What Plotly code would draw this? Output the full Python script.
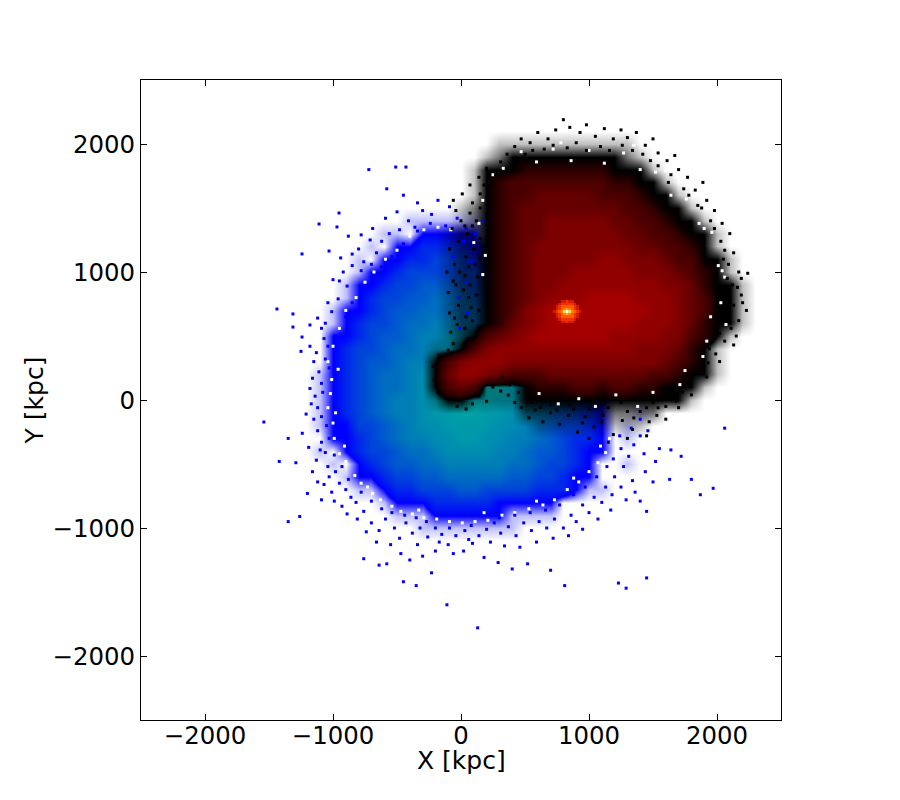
"""Two merging haloes: projected density, blue and red particle sets."""

import plotly.graph_objects as go

# density levels, one digit per 100 kpc cell
# 0 = empty, a = scattered particles, b = very few particles
blue_x = list(range(-1200, 1700, 100))
blue_y = list(range(1500, -1200, -100))
blue_rows = [
    "0000000bbbbbbb0000000000000",
    "00000bb01111100000000000000",
    "0000b0112222110000000000000",
    "000b01122333211000000000000",
    "000b11233333321000000000000",
    "00b112334444332000000000000",
    "00b123344555443000000000000",
    "0b1123445555554000000000000",
    "0b1233455666554000000000000",
    "011234456677765000000000000",
    "012334556778887000000000000",
    "012344566788888000000000000",
    "b12345567889999800000000000",
    "b12345567889999876543210000",
    "b12345667899998876543210000",
    "b123456678899887765432100b0",
    "b11334567788887765433210b00",
    "011234566778877665432210b00",
    "b01233455677776654432110000",
    "0b0123445566666554332100b00",
    "00b112334455555443321100000",
    "000bb1223334433332221bb0000",
    "00000b111222221111100000000",
    "000000bbb111111bbbb00000000",
    "00000000bbbbbbbb00000000000",
]

red_x = list(range(-300, 2400, 100))
red_y = list(range(2200, -400, -100))
red_rows = [
    "0000000000000000000000000",
    "00000bbbbbbbbbbb000000000",
    "0000ba111111111ab00000000",
    "000b1112222222111b0000000",
    "000b12333333332211b000000",
    "000b123344444333211b00000",
    "00ba1234444444433211b0000",
    "00ba12344555554433211b000",
    "0baa123445555554433211b00",
    "0baa123455555555443321b00",
    "0baa1234555556655543311b0",
    "0baa1234555666665554321b0",
    "0baa12345566666666554211b",
    "0baa12345666777766654311b",
    "0baa12356787777776654311b",
    "0baa12456777777766654211b",
    "0ba13456777777666655321b0",
    "bb13566666666666555421b00",
    "1356665555555555554321b00",
    "1466543334444444433211b00",
    "1343bbb12223323322111b000",
    "b11bbbb1111111111111b0000",
    "0000000aaaaaaaaaaa0000000",
    "00000000bbbbbbbbb00000000",
]

# bright core of the red halo, 20 kpc cells
core_x = list(range(730, 950, 20))
core_y = list(range(790, 570, -20))
core_levels = [
    [None, None, None, None, None, None, None, None, None, None, None],
    [None, None, None, 9, 9, 10, 9, 9, None, None, None],
    [None, None, 9, 10, 10, 10, 10, 10, 9, None, None],
    [None, 9, 10, 11, 11, 11, 11, 11, 10, 9, None],
    [None, 9, 10, 11, 12, 13, 12, 11, 10, 9, None],
    [9, 10, 11, 12, 14, 16, 14, 12, 11, 10, 9],
    [None, 9, 10, 11, 12, 13, 12, 11, 10, 9, None],
    [None, 9, 10, 11, 11, 11, 11, 11, 10, 9, None],
    [None, None, 9, 10, 10, 10, 10, 10, 9, None, None],
    [None, None, None, 9, 9, 10, 9, 9, None, None, None],
    [None, None, None, None, None, None, None, None, None, None, None],
]

# isolated particles outside the dense parts (kpc)
blue_dots = [
    (-1438, 711), (-1313, 672), (-1313, 570), (-1242, 492), (-1180, 586), (-1120, 640), (-1090, 560),
    (-1180, 420), (-1250, 380), (-1150, 300), (-1110, 220), (-1090, 130), (-1180, 90), (-1140, 30),
    (-1120, -60), (-1210, -110), (-1540, -172), (-1350, -300), (-1420, -480), (-1290, -490), (-1190, -370),
    (-1120, -240), (-1090, -330), (-1060, -410), (-1130, -470), (-1040, -520), (-1350, -950), (-1260, -910),
    (-1200, -730), (-1120, -640), (-1030, -600), (-980, -560), (-950, -650), (-1010, -720), (-900, -700),
    (-860, -760), (-930, -830), (-820, -800), (-760, -870), (-953, 1461), (-1109, 1375), (-969, 1352),
    (-1031, 1164), (-1242, 1141), (-880, 1280), (-800, 1180), (-760, 1080), (-850, 1050), (-920, 1000),
    (-1000, 940), (-890, 890), (-960, 790), (-1040, 760), (-1060, 600), (-780, 1010), (-700, 1060),
    (-660, 1150), (-620, 1240), (-560, 1300), (-710, 1250), (-510, 1820), (-430, 1820), (-720, 1800),
    (-580, 1650), (-450, 1600), (-340, 1540), (-300, 1480), (-230, 1450), (-410, 1400), (-360, 1350),
    (-480, 1330), (-640, -1290), (-580, -1280), (-450, -1420), (-350, -1450), (-230, -1350), (-110, -1600),
    (130, -1780), (-760, -1240), (-400, -1250), (-300, -1220), (-200, -1180), (-100, -1130), (20, -1180),
    (90, -1120), (180, -1230), (290, -1270), (400, -1320), (520, -1280), (700, -1330), (810, -1450),
    (1230, -1430), (1290, -1470), (1450, -1390), (-700, -960), (-640, -1020), (-590, -930), (-520, -1000),
    (-480, -1080), (-430, -960), (-380, -1040), (-320, -1000), (-260, -1070), (-200, -1000), (-150, -1050),
    (-90, -1000), (-40, -1060), (30, -1020), (80, -980), (140, -1060), (200, -1010), (260, -960),
    (310, -1040), (370, -990), (430, -1060), (490, -960), (550, -1020), (610, -950), (670, -1000),
    (730, -930), (800, -1000), (900, -950), (1000, -880), (1100, -800), (1180, -740), (1250, -680),
    (1340, -630), (1450, -870), (1400, -790), (1500, -640), (1630, -620), (1720, -440), (1870, -740),
    (2060, -220), (1970, -690), (860, -900), (950, -820), (1040, -760), (1130, -680), (1200, -600),
    (1270, -520), (1310, -440), (1250, -380), (1190, -460), (1350, -350), (1400, -280), (1460, -240),
    (-980, 500), (-1040, 420), (-1060, 320), (-1030, 250), (-1090, -130), (-1050, -200), (-1030, -300),
    (-990, -430), (-930, -520), (-880, -620), (-780, -720), (-700, -790), (-620, -850), (-540, -880),
    (-440, -900), (-350, -920), (-270, -950), (300, -920), (420, -900), (540, -880), (660, -860),
    (770, -820), (880, -740), (970, -680), (1060, -600), (1140, -520), (-900, 650), (-850, 760),
    (-780, 880), (-700, 960), (-620, 1040), (-540, 1120), (-450, 1220), (-340, 1320), (-240, 1380),
    (-120, 1360), (-30, 1420), (40, 1340), (110, 1300), (170, 1400), (-60, 1120), (20, 1240),
    (80, 1080), (40, 920), (-20, 800), (50, 680), (-10, 560), (1400, -150), (1330, -220), (1240, -280),
    (-1070, 480), (-1130, 370), (-1160, 170), (-1080, 60), (-1170, -30), (-1150, -150), (-1240, -260),
    (-1100, -390), (-1160, -560), (-1070, -660), (-1090, -780), (-990, -790), (-890, -890), (-810, -930),
    (-740, -1030), (-660, -1110), (-550, -1130), (-470, -1200), (-340, -1130), (-170, -1110), (-60, -1200),
    (60, -1090), (230, -1110), (340, -1140), (460, -1150), (590, -1110), (720, -1080), (840, -1060),
    (950, -1010), (1070, -930), (1170, -860), (1290, -780), (1360, -720), (1440, -560), (1520, -480),
    (1430, -420), (1550, -380), (-1010, 690), (-950, 930), (-850, 1140), (-940, 1110), (-690, 1340),
    (-780, 1290), (-590, 1420), (-500, 1470), (-180, 1560), (-90, 1510), (1640, -390), (1800, -620),
]

black_dots = [
    (-60, 1560), (10, 1610), (70, 1680), (140, 1740), (200, 1810), (90, 1540), (150, 1610), (230, 1670),
    (270, 1760), (310, 1860), (360, 1920), (420, 1980), (470, 2040), (540, 2010), (600, 2090), (680, 2040),
    (740, 2110), (800, 2190), (850, 2130), (930, 2090), (980, 2150), (1050, 2060), (1120, 2120), (1190, 2040),
    (1250, 2110), (1300, 2050), (1370, 2090), (1440, 1990), (1500, 2040), (1540, 1930), (1610, 1870), (1670, 1910),
    (1700, 1800), (1770, 1740), (1830, 1640), (1890, 1700), (1920, 1560), (1980, 1480), (2040, 1380), (2100, 1300),
    (2030, 1240), (2130, 1150), (2090, 1060), (2170, 1000), (2240, 990), (2120, 900), (2190, 820), (2130, 740),
    (2230, 700), (2170, 620), (2110, 560), (2060, 460), (2130, 430), (1990, 360), (1930, 290), (1860, 210),
    (1800, 130), (1730, 60), (1680, -10), (1600, -50), (1530, -120), (1470, -170), (1400, -90), (1340, -230),
    (1260, -160), (1190, -270), (1110, -120), (1040, -210), (970, -130), (910, -250), (840, -120), (770, -190),
    (700, -100), (640, -170), (580, -80), (530, -140), (470, -60), (420, -20), (370, 40), (310, 70),
    (250, 100), (200, -10), (140, 30), (90, -30), (40, -70), (-30, -50), (-110, 10), (-180, 60),
    (-210, 160), (-220, 260), (-170, 350), (-100, 390), (-60, 440), (10, 400), (50, 480), (-80, 530),
    (-30, 590), (40, 650), (-90, 680), (-20, 740), (60, 800), (-100, 840), (-40, 900), (30, 970),
    (-110, 1000), (-50, 1060), (40, 1120), (-90, 1180), (-20, 1240), (50, 1300), (-70, 1340), (0, 1400),
    (70, 1460), (-40, 1480), (120, 1400), (150, 1500), (1000, -300), (1150, -330), (1300, -300), (1450, -280),
    (1600, -150), (1700, -60), (1800, 40), (1920, 180), (2020, 300), (2150, 500), (2200, 760), (2160, 880),
    (2190, 950), (2060, 1170), (1980, 1340), (1880, 1500), (1780, 1600), (1640, 1760), (1540, 1830), (1420, 1920),
    (1260, 1990), (1090, 1980), (900, 2010), (720, 1990), (560, 1950), (430, 1880), (310, 1790), (180, 1680),
    (400, 1800), (500, 1920), (650, 1960), (830, 1970), (980, 1950), (1160, 1950), (1340, 1950), (1480, 1870),
    (1620, 1700), (1740, 1650), (1850, 1520), (1950, 1400), (2050, 1100), (2080, 950), (2090, 800), (2060, 640),
    (2020, 520), (1940, 400), (1820, 260), (1750, 160), (1650, 60), (1560, 10), (1450, -60), (1300, -90),
    (1150, -60), (1000, -70), (850, -40), (700, -40), (550, -20), (450, 60), (380, 120), (320, 180),
    (-10, 1000), (60, 1040), (-60, 930), (20, 860), (80, 720), (-50, 640), (30, 560), (90, 620), (70, 900),
    (100, 1180), (30, 1360), (90, 1360), (110, 1060), (120, 820), (130, 960), (140, 700), (150, 1260), (150, 1100),
    (1500, -20), (1250, -20), (1100, -170), (880, -70), (750, -80), (620, -60), (1350, -140), (1540, -60), (950, -180),
]

# gaps left between particles at the edges of the dense parts (kpc)
white_dots = [
    (-1040, 300), (-1010, 160), (-1020, 50), (-1040, -60), (-1000, -180), (-990, -300), (-950, -420),
    (-900, -480), (-830, -590), (-780, -650), (-690, -730), (-630, -780), (-540, -830), (-470, -870),
    (-380, -890), (-290, -920), (-190, -930), (-90, -950), (10, -960), (110, -950), (210, -940), (320, -900),
    (420, -880), (530, -850), (640, -820), (730, -780), (830, -700), (920, -640), (1000, -560), (1070, -490),
    (1130, -410), (1160, -300), (-1000, 420), (-950, 560), (-900, 700), (-820, 800), (-750, 920), (-680, 1000),
    (-590, 1100), (-500, 1170), (-400, 1280), (-290, 1330), (-180, 1350), (-80, 1330), (-960, 240), (-980, -100),
    (-910, -360), (-730, -680), (-330, -860), (180, -880), (590, -790), (880, -610), (1090, -360),
    (330, 1810), (470, 1940), (590, 1860), (720, 1960), (860, 1870), (1000, 1950), (1120, 1850), (1270, 1930),
    (1400, 1800), (1520, 1780), (1640, 1600), (1760, 1570), (1860, 1380), (1960, 1310), (2010, 1050), (2060, 960),
    (2030, 760), (2070, 590), (1920, 460), (1890, 340), (1750, 230), (1710, 120), (1500, 60), (1380, -50),
    (1210, 40), (1050, -50), (920, 10), (760, -30), (610, 50), (250, 1760), (170, 1560), (140, 1380), (100, 1230),
    (190, 1130), (170, 980), (1950, 650), (2040, 1010), (1900, 1340), (1600, 1790), (1350, 1990), (780, 2010),
]

dots_x_blue = [d[0] for d in blue_dots]
dots_y_blue = [d[1] for d in blue_dots]
dots_x_black = [d[0] for d in black_dots]
dots_y_black = [d[1] for d in black_dots]
dots_x_white = [d[0] for d in white_dots]
dots_y_white = [d[1] for d in white_dots]

tick_vals = [-2000, -1000, 0, 1000, 2000]

# level 0 fades to nothing, so the edges of both haloes come out soft
blue_colours = [
    "rgba(0,0,255,0)", "rgb(0,0,255)", "rgb(0,40,235)", "rgb(0,68,218)", "rgb(0,90,205)", "rgb(0,110,192)",
    "rgb(0,127,182)", "rgb(0,141,176)", "rgb(0,153,170)", "rgb(0,162,165)",
]
blue_scale = [[i / 9, c] for i, c in enumerate(blue_colours)]
hot_colours = [
    "rgba(0,0,0,0)", "rgb(0,0,0)", "rgb(45,0,0)", "rgb(75,0,0)", "rgb(100,0,0)", "rgb(125,0,0)", "rgb(145,0,0)",
    "rgb(165,0,0)", "rgb(190,5,0)", "rgb(215,25,0)", "rgb(235,50,0)", "rgb(250,90,0)", "rgb(255,130,0)",
    "rgb(255,170,20)", "rgb(255,210,80)", "rgb(255,240,170)", "rgb(255,255,255)",
]
hot_scale = [[i / 16, c] for i, c in enumerate(hot_colours)]
sparse_levels = {"a": 0.55, "b": 0.25}


def levels(rows):
    # one empty row and column round the grid, so it fades out at its border
    grid = [[0] + [sparse_levels[c] if c in sparse_levels else int(c) for c in row] + [0] for row in rows]
    empty = [0] * len(grid[0])
    return [empty] + grid + [empty]


fig = go.Figure()
fig.add_trace(go.Heatmap(x=blue_x, y=blue_y, z=levels(blue_rows), zmin=0, zmax=9, zsmooth="best",
                         colorscale=blue_scale, showscale=False, hoverinfo="skip"))
fig.add_trace(go.Heatmap(x=red_x, y=red_y, z=levels(red_rows), zmin=0, zmax=16, zsmooth="best",
                         colorscale=hot_scale, showscale=False, hoverinfo="skip"))
fig.add_trace(go.Heatmap(x=core_x, y=core_y, z=core_levels, zmin=0, zmax=16,
                         colorscale=hot_scale, showscale=False, hoverinfo="skip"))
fig.add_trace(go.Scatter(x=dots_x_white, y=dots_y_white, mode="markers", hoverinfo="skip",
                         marker={"symbol": "square", "size": 3, "color": "white"}))
fig.add_trace(go.Scatter(x=dots_x_blue, y=dots_y_blue, mode="markers", hoverinfo="skip",
                         marker={"symbol": "square", "size": 3, "color": "rgb(0,0,255)"}))
fig.add_trace(go.Scatter(x=dots_x_black, y=dots_y_black, mode="markers", hoverinfo="skip",
                         marker={"symbol": "square", "size": 3, "color": "rgb(0,0,0)"}))

axis_style = dict(
    range=[-2500, 2500], tickvals=tick_vals, ticks="inside", ticklen=6, tickwidth=1, tickcolor="black",
    showline=True, linecolor="black", linewidth=1, mirror="allticks", showgrid=False, zeroline=False,
    tickfont={"size": 24.4},
)
fig.update_layout(
    width=900, height=800, autosize=False, showlegend=False,
    paper_bgcolor="white", plot_bgcolor="white",
    font={"family": "DejaVu Sans", "size": 24, "color": "black"},
    margin={"l": 133, "r": 127, "t": 72, "b": 88},
    # plotly keeps the x title too low even at standoff 0, so it is placed by hand
    annotations=[{"text": "X [kpc]", "xref": "paper", "yref": "paper", "x": 0.5, "y": -0.0625,
                  "xanchor": "center", "yanchor": "middle", "showarrow": False, "font": {"size": 25}}],
)
fig.update_xaxes(ticklabelstandoff=-6, **axis_style)
fig.update_yaxes(title={"text": "Y [kpc]", "standoff": 1, "font": {"size": 25}}, **axis_style)

fig.write_html("out.html")
